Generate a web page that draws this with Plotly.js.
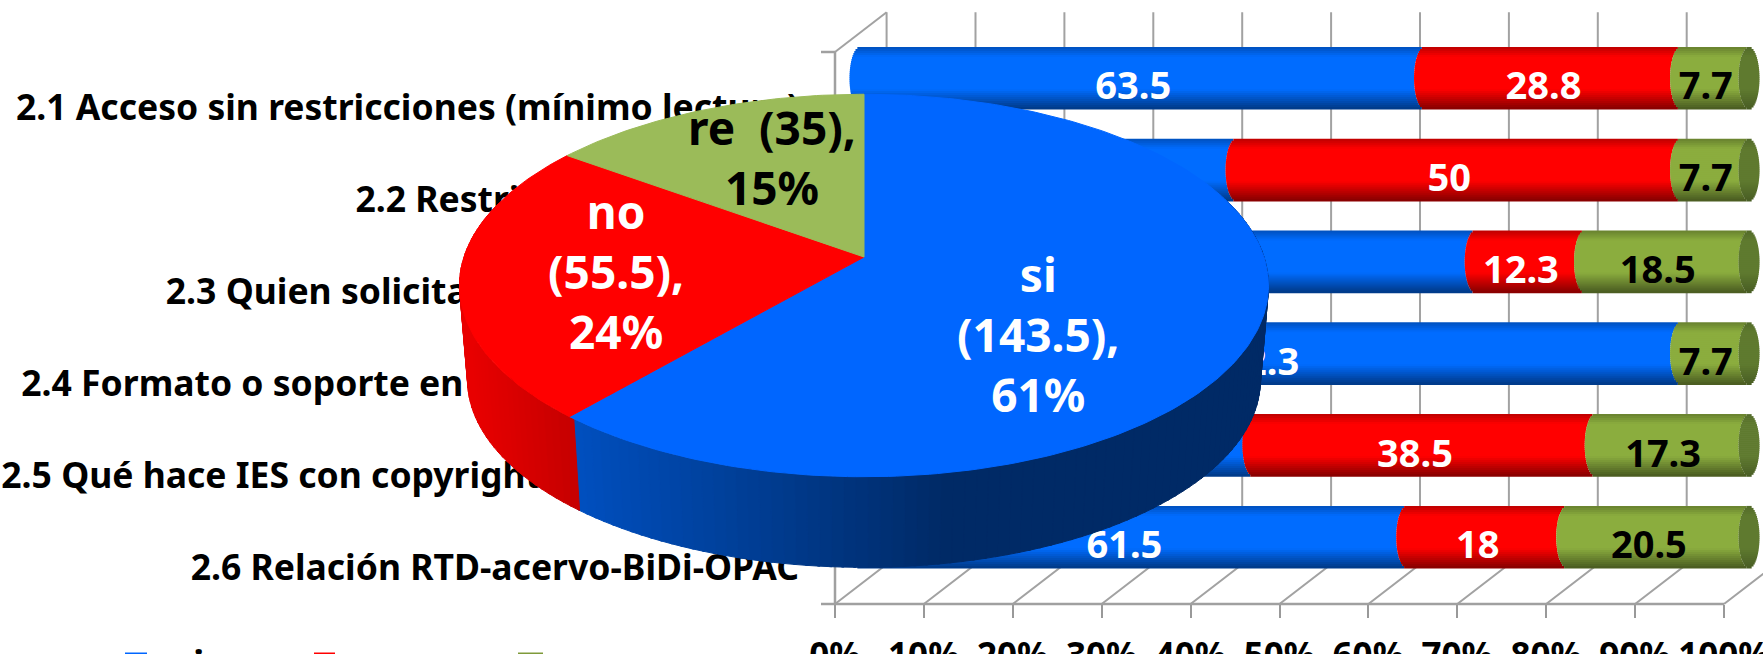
<!DOCTYPE html>
<html><head><meta charset="utf-8">
<script src="https://cdn.plot.ly/plotly-3.0.1.min.js"></script>
<style>html,body{margin:0;padding:0;background:#fff;overflow:hidden}#c{width:1763px;height:654px}</style>
</head><body><div id="c"></div>
<script>
// ---------- data ----------
const categories = [
  "2.1 Acceso sin restricciones (mínimo lectura)",
  "2.2 Restricción de lectura",
  "2.3 Quien solicita unas restricciones",
  "2.4 Formato o soporte en que se entrega IES",
  "2.5 Qué hace IES con copyright de los autores",
  "2.6 Relación RTD-acervo-BiDi-OPAC"
];
const siValues = [63.5, 42.3, 69.2, 92.3, 44.2, 61.5];
const noValues = [28.8, 50, 12.3, 0, 38.5, 18];
const reValues = [7.7, 7.7, 18.5, 7.7, 17.3, 20.5];
const xTickValues = [0,10,20,30,40,50,60,70,80,90,100];
const xTickLabels = xTickValues.map(v => v + "%");
const pieNames = ["si","no","re"];
const pieValues = [143.5, 55.5, 35];
const piePercents = [61, 24, 15];

// ---------- geometry / style ----------
const W = 1763, H = 654;
const pxPerUnit = 8.89;
const frame = {x0:835, x1:1724, y0:52, y1:604, backDx:51.6, backDy:-39.7, left:821, top:10, bottom:620};
const bars  = {x0:860, y0:32, rowH:91.8, thick:0.675, rx:10.5};
const pie   = {cx:864, cy:257, A:400, B:187, k:0.149, depth:95, shrink:0.98};
const FONT = "'Noto Sans', Lato, sans-serif";
const lerp = (a,b,f)=>a+(b-a)*f;
const rgb = c=>`rgb(${c.map(Math.round).join(",")})`;
const shade = (c,f)=>rgb(c.map(v=>v*f));
const seriesColors = {si:[0,108,255], no:[255,0,0], re:[139,173,62]};
const capColor = [95,122,47];
function profile(t){ // cylinder shading from top (0) to bottom (1)
  if(t<0.16) return lerp(0.74,1,t/0.16);
  if(t<0.68) return 1;
  return lerp(1,0.52,(t-0.68)/0.32);
}

const traces = [];
// ---- frame: back wall, floor, left wall on the first subplot
const rowUnit = (frame.y1-frame.y0)/6;
const bdx = frame.backDx/pxPerUnit, bdy = frame.backDy/rowUnit;
const gx=[],gy=[];
xTickValues.forEach(v=>{
  gx.push(v, v+bdx, v+bdx, null); gy.push(6, 6+bdy, bdy, null);
});
gx.push(0,bdx,null); gy.push(0,bdy,null);
traces.push({type:"scatter",mode:"lines",x:gx,y:gy,xaxis:"x",yaxis:"y",
  line:{color:"#a2a2a2",width:2},hoverinfo:"skip",showlegend:false});
const lx=[],ly=[];
lx.push(0,0,null,0,100,null); ly.push(0,6,null,6,6,null);
[0,6].forEach(v=>{lx.push(-14/pxPerUnit,0,null);ly.push(v,v,null);});
traces.push({type:"scatter",mode:"lines",x:lx,y:ly,xaxis:"x",yaxis:"y",
  line:{color:"#a0a0a0",width:2.5},hoverinfo:"skip",showlegend:false});

// ---- cylinders built from stacked bar strips
const BANDS = 31;
const rowsY = categories.map((_,i)=>i+0.5);
const cumNo = siValues.slice();
const cumRe = siValues.map((v,i)=>v+noValues[i]);
const zeros = siValues.map(()=>0);
const hundred = siValues.map((v,i)=>v+noValues[i]+reValues[i]);
const rxU = bars.rx/pxPerUnit;
for(let k=0;k<BANDS;k++){
  const t=(k+0.5)/BANDS, u=2*t-1;
  const shift=-rxU*Math.sqrt(Math.max(0,1-u*u));
  const off=-bars.thick/2+k*bars.thick/BANDS;
  const w=bars.thick/BANDS*1.35;
  const p=profile(t);
  const add=(vals,base,col)=>traces.push({type:"bar",orientation:"h",x:vals,y:rowsY,
    base:base.map(b=>b+shift),offset:off,width:w,xaxis:"x2",yaxis:"y2",
    marker:{color:col,line:{width:0}},hoverinfo:"skip",showlegend:false});
  add(siValues,zeros,shade(seriesColors.si,p));
  add(noValues,cumNo,shade(seriesColors.no,p));
  add(reValues,cumRe,shade(seriesColors.re,p));
  add(siValues.map(()=>-2*shift),hundred,shade(capColor,lerp(p,1,0.5)));
}
// ---- bar value labels
const labelDx=-9/pxPerUnit, labelDy=12/bars.rowH;
function valueLabels(vals,base,color){
  const keep=vals.map((v,i)=>i).filter(i=>vals[i]>0);
  traces.push({type:"scatter",mode:"text",xaxis:"x2",yaxis:"y2",
    x:keep.map(i=>base[i]+vals[i]/2+labelDx),y:keep.map(i=>rowsY[i]+labelDy),
    text:keep.map(i=>String(vals[i])),textposition:"middle center",
    textfont:{family:FONT,size:38,weight:700,color:color},hoverinfo:"skip",showlegend:false});
}
valueLabels(siValues,zeros,"#ffffff");
valueLabels(noValues,cumNo,"#ffffff");
valueLabels(reValues,cumRe,"#000000");

// ---- 3D pie on a pixel-scaled overlay subplot
function P(deg,lower){
  const a=deg*Math.PI/180, X=Math.sin(a), Z=Math.cos(a), w=1+pie.k*Z;
  const s=lower?pie.shrink:1, dy=lower?pie.depth:0;
  return [pie.cx+s*pie.A*X/w, pie.cy+dy-s*pie.B*Z/w];
}
const total=pieValues.reduce((a,b)=>a+b,0);
const bounds=[0]; pieValues.forEach((v,i)=>bounds.push(bounds[i]+v/total*360));
const poly=(xs,ys,col)=>traces.push({type:"scatter",mode:"lines",x:xs,y:ys,fill:"toself",fillcolor:col,
  line:{color:col,width:1},xaxis:"x3",yaxis:"y3",hoverinfo:"skip",showlegend:false});
// side wall strips
for(let d=70;d<285;d+=1.5){
  const a=P(d,false),b=P(d+1.8,false),c=P(d+1.8,true),e=P(d,true);
  const mid=d+0.9; let col;
  if(mid<bounds[1]){
    const f=Math.min(1,Math.max(0,(a[0]-573)/(950-573)));
    col=rgb([0,lerp(80,42,f),lerp(192,102,f)]);
  } else if(mid<bounds[2]){
    const f=Math.min(1,Math.max(0,(a[0]-470)/(570-470)));
    col=rgb([lerp(232,200,f),0,0]);
  } else col=rgb([120,150,60]);
  poly([a[0],b[0],c[0],e[0],a[0]],[a[1],b[1],c[1],e[1],a[1]],col);
}
// top face
const faceColors=["#0066ff","#ff0000","#9bbb59"];
pieValues.forEach((v,i)=>{
  const xs=[pie.cx],ys=[pie.cy];
  for(let d=bounds[i];d<bounds[i+1];d+=1){const p=P(d,false);xs.push(p[0]);ys.push(p[1]);}
  const p=P(bounds[i+1],false);xs.push(p[0],pie.cx);ys.push(p[1],pie.cy);
  poly(xs,ys,faceColors[i]);
});

// ---- pie labels
const pieLabelPos=[[1038,334],[616,271],[772,157]];
const pieLabelText=[
  `${pieNames[0]}<br>(${pieValues[0]}),<br>${piePercents[0]}%`,
  `${pieNames[1]}<br>(${pieValues[1]}),<br>${piePercents[1]}%`,
  `${pieNames[2]}  (${pieValues[2]}),<br>${piePercents[2]}%`];
const pieLabelColor=["#ffffff","#ffffff","#000000"];
const annotations=pieLabelText.map((t,i)=>({xref:"x3",yref:"y3",x:pieLabelPos[i][0],y:pieLabelPos[i][1],
  text:t,showarrow:false,align:"center",font:{family:FONT,size:46,weight:700,color:pieLabelColor[i]}}));

// ---- legend (clipped by the bottom edge, as in the picture)
const legendItems=[{name:"si",sx:125,sw:22,tx:172,col:"#0066ff"},{name:"no",sx:314,sw:21,tx:372,col:"#ff0000"},{name:"re",sx:518,sw:25,tx:577,col:"#7f9a3a"}];
const shapes=legendItems.map(l=>({type:"rect",xref:"x3",yref:"y3",x0:l.sx,x1:l.sx+l.sw,y0:652.5,y1:680,fillcolor:l.col,line:{width:0}}));
legendItems.forEach(l=>annotations.push({xref:"paper",yref:"paper",x:l.tx/W,y:1-691/H,text:l.name,showarrow:false,
  font:{family:FONT,size:38,weight:700,color:"#000"}}));

const yUnitPx=rowUnit;
const layout={
  width:W,height:H,margin:{l:0,r:0,t:0,b:0},paper_bgcolor:"#fff",plot_bgcolor:"rgba(0,0,0,0)",
  showlegend:false,barmode:"overlay",dragmode:false,
  xaxis:{domain:[frame.left/W,1],range:[(frame.left-frame.x0)/pxPerUnit,(W-frame.x0)/pxPerUnit],anchor:"free",position:1-frame.y1/H,
    tickmode:"array",tickvals:xTickValues,ticktext:xTickLabels,ticklabeloverflow:"allow",
    ticks:"outside",ticklen:13,tickwidth:2,tickcolor:"#999999",showline:false,showgrid:false,zeroline:false,
    ticklabelstandoff:8,tickangle:0,tickfont:{family:FONT,size:35,weight:700,color:"#000"}},
  yaxis:{domain:[1-frame.bottom/H,1-frame.top/H],range:[(frame.bottom-frame.y0)/yUnitPx,(frame.top-frame.y0)/yUnitPx],
    anchor:"free",position:frame.left/W,tickmode:"array",tickvals:rowsY.map(v=>v+10/yUnitPx),
    ticktext:categories,ticks:"",showline:false,showgrid:false,zeroline:false,ticklabeloverflow:"allow",
    ticklabelstandoff:22,tickfont:{family:FONT,size:35.5,weight:700,color:"#000"}},
  xaxis2:{domain:[(bars.x0-5*pxPerUnit)/W,1],range:[-5,(W-bars.x0)/pxPerUnit],anchor:"y2",visible:false},
  yaxis2:{domain:[1-(bars.y0+6*bars.rowH)/H,1-bars.y0/H],range:[6,0],anchor:"x2",visible:false},
  xaxis3:{domain:[0,1],range:[0,W],anchor:"y3",visible:false},
  yaxis3:{domain:[0,1],range:[H,0],anchor:"x3",visible:false},
  shapes:shapes,annotations:annotations
};
Plotly.newPlot("c",traces,layout,{staticPlot:true,displayModeBar:false});
</script></body></html>
